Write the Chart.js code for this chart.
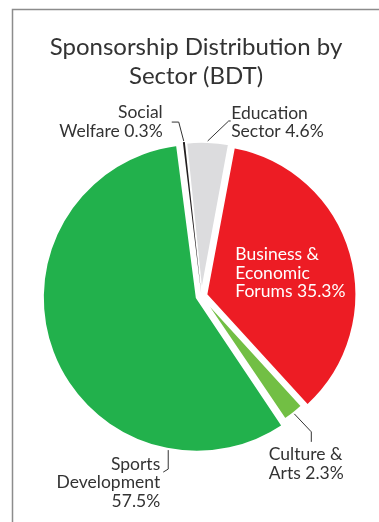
<!DOCTYPE html>
<html>
<head>
<meta charset="utf-8">
<script src="https://cdn.jsdelivr.net/npm/chart.js@4.4.0/dist/chart.umd.min.js"></script>
<style>
  body { margin: 0; background: #fff; }
  #wrap { position: relative; width: 379px; height: 522px; }
</style>
</head>
<body>
<div id="wrap"><canvas id="sectorChart"></canvas></div>
<script>
// sponsorship share per sector, clockwise from the top
const sectors = ["Education Sector", "Business & Economic Forums", "Culture & Arts", "Sports Development", "Social Welfare"];
const shares = [4.6, 35.3, 2.3, 57.5, 0.3];
const nameLines = [
  ["Education", "Sector"],
  ["Business &", "Economic", "Forums"],
  ["Culture &", "Arts"],
  ["Sports", "Development"],
  ["Social", "Welfare"]
];
const titleLines = ["Sponsorship Distribution by", "Sector (BDT)"];
const sectorColors = ["#dcdcde", "#ed1c24", "#72bf44", "#22b14c", "#231f20"];

// where each label sits: leader path (relative to the arc edge point) and text offset
const labelLayout = [
  { at: 0.5, path: [[21, -20], [23, -20]], text: [0.5, -8], align: "left" },
  { inside: true, text: [29, -40], align: "left", color: "#fff" },
  { at: 0.5, path: [[17, 18], [17, 28]], text: [-42.5, 13], align: "left" },
  { at: 0.216, path: [[0, 19], [-5, 22]], text: [-3, -8], align: "right", valueLine: true },
  { at: 0.5, path: [[-5, -19], [-12, -19]], text: [-9, -9.5], align: "right" }
];

function labelText(i) {
  const lines = nameLines[i].slice();
  const val = shares[i] + "%";
  if (labelLayout[i].valueLine) lines.push(val);
  else lines[lines.length - 1] += " " + val;
  return lines;
}

// thin frame on the left and top, plus the two-line heading
const frame = {
  id: "frame",
  beforeDraw(chart) {
    const ctx = chart.ctx;
    ctx.save();
    ctx.strokeStyle = "#8c8c8c";
    ctx.lineWidth = 1.5;
    ctx.beginPath();
    ctx.moveTo(12.5, 522);
    ctx.lineTo(12.5, 9.5);
    ctx.lineTo(379, 9.5);
    ctx.stroke();
    ctx.fillStyle = "#333";
    ctx.font = "24px Lato";
    ctx.textAlign = "center";
    ctx.textBaseline = "middle";
    titleLines.forEach((t, k) => ctx.fillText(t, 196, 47 + k * 29));
    ctx.restore();
  }
};

const sliceLabels = {
  id: "sliceLabels",
  afterDatasetsDraw(chart) {
    const ctx = chart.ctx;
    const meta = chart.getDatasetMeta(0);
    const offsets = chart.data.datasets[0].offset;
    ctx.save();
    ctx.font = "17.5px Lato";
    ctx.textBaseline = "middle";
    meta.data.forEach((arc, i) => {
      const cfg = labelLayout[i];
      const p = arc.getProps(["x", "y", "startAngle", "endAngle", "outerRadius", "circumference"], true);
      const mid = (p.startAngle + p.endAngle) / 2;
      const shift = offsets[i] / 4;
      const cx = p.x + Math.cos(mid) * shift;
      const cy = p.y + Math.sin(mid) * shift;
      // same radius growth the arc element applies to offset slices
      const grow = shift * (1 - Math.sin(Math.min(Math.PI, p.circumference)));
      let tx, ty;
      if (cfg.inside) {
        tx = cx + cfg.text[0];
        ty = cy + cfg.text[1];
      } else {
        const a = p.startAngle + (p.endAngle - p.startAngle) * cfg.at;
        const r = p.outerRadius + grow + 1;
        const ax = cx + Math.cos(a) * r;
        const ay = cy + Math.sin(a) * r;
        ctx.strokeStyle = "#333";
        ctx.lineWidth = 1;
        ctx.beginPath();
        ctx.moveTo(ax, ay);
        cfg.path.forEach(pt => ctx.lineTo(ax + pt[0], ay + pt[1]));
        ctx.stroke();
        const end = cfg.path[cfg.path.length - 1];
        tx = ax + end[0] + cfg.text[0];
        ty = ay + end[1] + cfg.text[1];
      }
      ctx.fillStyle = cfg.color || "#333";
      ctx.textAlign = cfg.align;
      labelText(i).forEach((line, k) => ctx.fillText(line, tx, ty + k * 18.5));
    });
    ctx.restore();
  }
};

new Chart(document.getElementById("sectorChart"), {
  type: "pie",
  data: {
    labels: sectors,
    datasets: [{
      data: shares,
      backgroundColor: sectorColors,
      borderColor: "#fff",
      borderWidth: [2, 2, 2, 2, 0],
      offset: [12, 20, 0, 20, 12],
      rotation: -6,
      radius: 149
    }]
  },
  options: {
    responsive: true,
    maintainAspectRatio: false,
    animation: false,
    events: [],
    layout: { padding: { left: 24, right: 0, top: 100, bottom: 30 } },
    plugins: {
      legend: { display: false },
      tooltip: { enabled: false },
      title: { display: false }
    }
  },
  plugins: [frame, sliceLabels]
});
</script>
</body>
</html>
